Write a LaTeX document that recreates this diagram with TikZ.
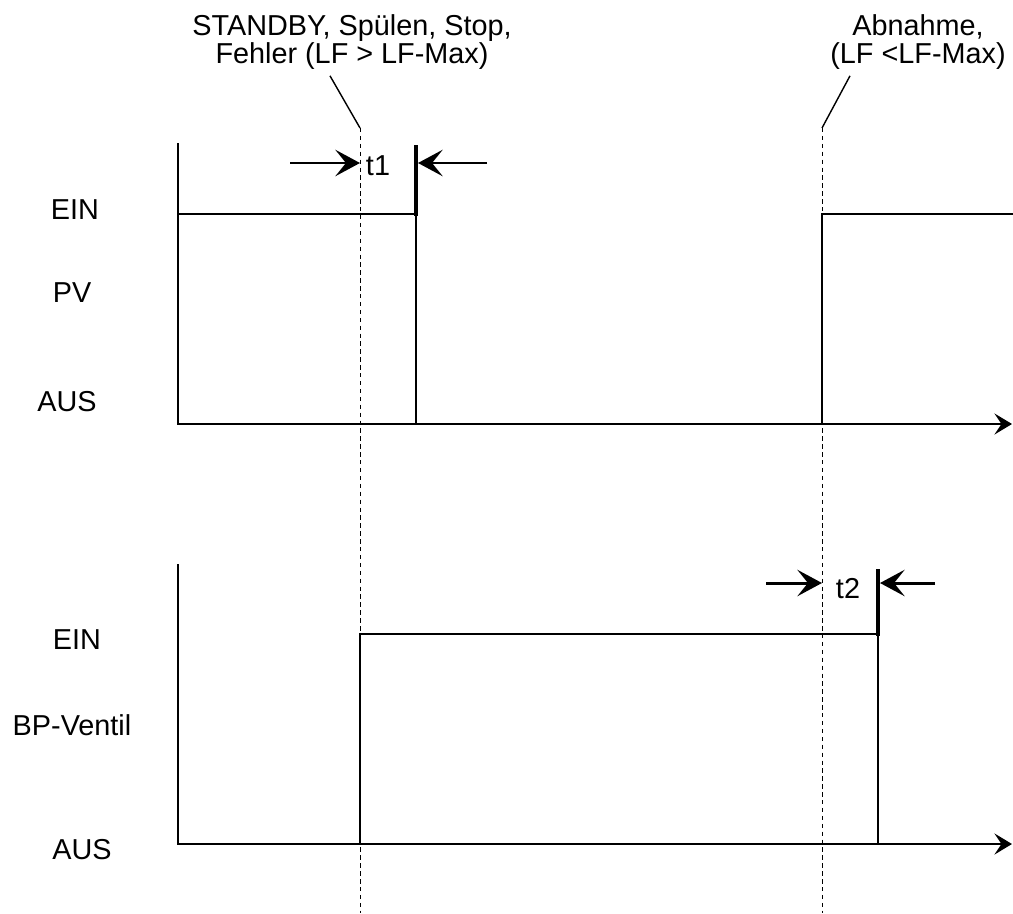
\documentclass[tikz,border=0pt]{standalone}
\usepackage{fontspec}
\setmainfont{Liberation Sans}
\usetikzlibrary{arrows.meta}

\begin{document}
\begin{tikzpicture}
  [x=0.02cm, y=-0.02cm,
   txt/.style={font=\fontsize{16.4}{16}\selectfont, inner sep=0pt, align=center},
   axis/.style={line width=1.1pt, -{Stealth[length=10pt, width=12pt, inset=4pt]}},
   signal/.style={line width=1.1pt},
   bar/.style={line width=1.8pt},
   guide/.style={line width=0.5pt, dash pattern=on 2.5pt off 2pt},
   leader/.style={line width=0.8pt},
   dim arrow/.style={line width=1.7pt, -{Stealth[length=14pt, width=15pt, inset=6pt]}}]
  \useasboundingbox (0,0) rectangle (1013,913);

  % labels
  \node[txt] (evA) at (352,42) {STANDBY, Spülen, Stop,\\Fehler (LF > LF-Max)};
  \node[txt] (evB) at (918,42) {Abnahme,\\(LF <LF-Max)};
  \node[txt] (einA) at (75,210) {EIN};
  \node[txt] (pv) at (72,293) {PV};
  \node[txt] (ausA) at (67,402) {AUS};
  \node[txt] (einB) at (77,640) {EIN};
  \node[txt] (bp) at (72,725) {BP-Ventil};
  \node[txt] (ausB) at (82,850) {AUS};
  \node[txt] (tA) at (378,166) {t1};
  \node[txt] (tB) at (848,589) {t2};

  % event guides
  \coordinate (gA) at (360,128);
  \coordinate (gB) at (822,128);
  \draw[guide] (gA) -- (360,913);
  \draw[guide] (gB) -- (822,913);
  \draw[leader] ([shift={(-22,6)}]evA.south) -- (gA);
  \draw[leader] ([shift={(-68,6)}]evB.south) -- (gB);

  % PV
  \draw[axis] (178,143) -- (178,424) -- (1012,424);
  \draw[signal] (178,214) -- (416,214) -- (416,424) -- (822,424) -- (822,214) -- (1013,214);
  \draw[bar] (416,145) -- (416,216);
  \draw[dim arrow] (290,163) -- (360,163);
  \draw[dim arrow] (487,163) -- (418,163);

  % BP-Ventil
  \draw[axis] (178,564) -- (178,844) -- (1012,844);
  \draw[signal] (178,844) -- (360,844) -- (360,634) -- (878,634) -- (878,844);
  \draw[bar] (878,569) -- (878,636);
  \draw[dim arrow] (766,583) -- (822,583);
  \draw[dim arrow] (935,583) -- (880,583);
\end{tikzpicture}
\end{document}
